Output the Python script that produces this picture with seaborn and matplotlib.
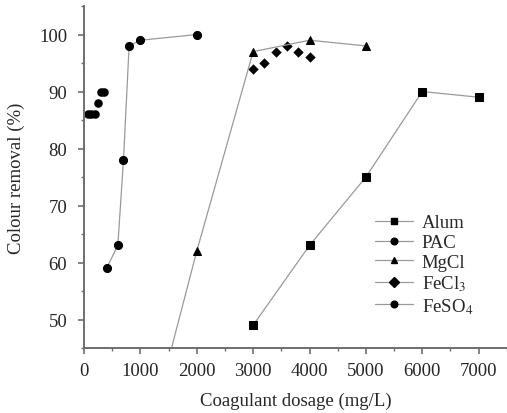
import numpy as np
import pandas as pd
import matplotlib
matplotlib.use("Agg")
import matplotlib.pyplot as plt
from matplotlib.lines import Line2D
import seaborn as sns

# data
alum_x = [3000, 4000, 5000, 6000, 7000]
alum_y = [49, 63, 75, 90, 89]

pac_x = [75, 125, 200, 250, 300, 350]
pac_y = [86, 86, 86, 88, 90, 90]

mgcl_x = [1500, 2000, 3000, 4000, 5000]
mgcl_y = [43, 62, 97, 99, 98]

fecl3_x = [3000, 3200, 3400, 3600, 3800, 4000]
fecl3_y = [94, 95, 97, 98, 97, 96]

feso4_x = [400, 600, 700, 800, 1000, 2000]
feso4_y = [59, 63, 78, 98, 99, 100]

names = ["Alum", "PAC", "MgCl", "FeCl$_3$", "FeSO$_4$"]
markers = ["s", "o", "^", "D", "o"]

sns.set_style("ticks")
plt.rcParams['font.family'] = ['Liberation Serif', 'DejaVu Serif']
plt.rcParams['mathtext.fontset'] = 'stix'

fig = plt.figure(figsize=(5.07, 4.14), dpi=100)
ax = fig.add_axes([0.1657, 0.157, 0.834, 0.826])

line_kw = dict(color="#9a9a9a", linewidth=0.9, markersize=5.8,
               markerfacecolor="black", markeredgecolor="black")

sns.lineplot(x=alum_x, y=alum_y, marker="s", ax=ax, **line_kw)
sns.lineplot(x=mgcl_x, y=mgcl_y, marker="^", ax=ax, **line_kw)
sns.lineplot(x=feso4_x, y=feso4_y, marker="o", ax=ax, **line_kw)
sns.scatterplot(x=pac_x, y=pac_y, marker="o", color="black", s=38, linewidth=0, ax=ax)
sns.scatterplot(x=fecl3_x, y=fecl3_y, marker="D", color="black", s=28, linewidth=0, ax=ax)

ax.set_xlim(0, 7480)
ax.set_ylim(45, 105)
ax.set_xticks(np.arange(0, 7001, 1000))
ax.set_xticks(np.arange(500, 7501, 1000), minor=True)
ax.set_yticks(np.arange(50, 101, 10))
ax.set_yticks(np.arange(45, 106, 10), minor=True)

for side in ["top", "right"]:
    ax.spines[side].set_visible(False)
for side in ["left", "bottom"]:
    ax.spines[side].set_color("#6e6e6e")
    ax.spines[side].set_linewidth(1.4)
ax.tick_params(which="major", length=4, width=1.2, color="#6e6e6e", labelsize=13.5, pad=8)
ax.tick_params(axis="x", which="major", pad=6)
ax.tick_params(which="minor", length=2.5, width=1.0, color="#6e6e6e")

ax.set_xlabel("Coagulant dosage (mg/L)", fontsize=13.5, labelpad=9)
ax.set_ylabel("Colour removal (%)", fontsize=13.5, labelpad=10)

handles = [Line2D([], [], color="#9a9a9a", linewidth=0.9, marker=m, markersize=4.8,
                  markerfacecolor="black", markeredgecolor="black")
           for m in markers]
fig.legend(handles, names, loc="upper left", bbox_to_anchor=(0.725, 0.498),
           frameon=False, fontsize=13.5, handlelength=2.0, handletextpad=0.5,
           labelspacing=0.14, borderaxespad=0)

fig.savefig("out.png", dpi=100)
